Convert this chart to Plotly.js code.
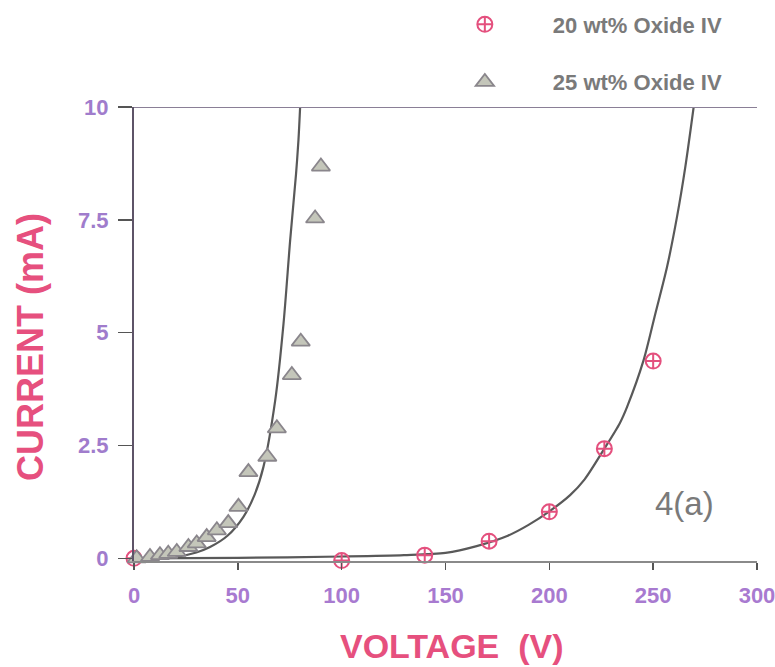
<!DOCTYPE html>
<html>
<head>
<meta charset="utf-8">
<script src="https://cdn.plot.ly/plotly-3.0.1.min.js"></script>
<style>html,body{margin:0;padding:0;background:#fff;}#chart{width:775px;height:667px;}</style>
</head>
<body>
<div id="chart"></div>
<script>
// 20 wt% Oxide IV measured points
const v20 = [0, 100, 140, 171, 200, 226.5, 250];
const i20 = [0, -0.05, 0.07, 0.38, 1.03, 2.43, 4.37];
// 20 wt% fitted curve
const v20Fit = [0, 50, 100, 130, 150, 165, 180, 190, 200, 210, 217, 226.5, 234, 237.4, 245.4, 251.1, 256.7, 261.5, 265.5, 269.5];
const i20Fit = [0, 0.01, 0.04, 0.07, 0.12, 0.27, 0.5, 0.74, 1.04, 1.4, 1.75, 2.43, 3.0, 3.35, 4.39, 5.43, 6.46, 7.57, 8.68, 10];
// 25 wt% Oxide IV measured points
const v25 = [1.3, 7.7, 12.5, 16.5, 20.6, 26.2, 30.2, 35.0, 39.9, 45.4, 50.3, 55.1, 64.2, 68.8, 76, 80.3, 87.2, 90];
const i25 = [0, 0.03, 0.07, 0.10, 0.14, 0.25, 0.33, 0.47, 0.62, 0.78, 1.14, 1.91, 2.25, 2.88, 4.06, 4.8, 7.53, 8.68];
// 25 wt% fitted curve
const v25Fit = [0, 10, 20, 30, 36.6, 45, 52.7, 58, 62.3, 68, 72, 75.2, 78, 79.2, 80];
const i25Fit = [0, 0.01, 0.03, 0.13, 0.25, 0.5, 0.92, 1.4, 2.02, 3.5, 5.2, 7.05, 8.5, 9.27, 10];
// ticks
const xTicks = [0, 50, 100, 150, 200, 250, 300];
const yTicks = [0, 2.5, 5, 7.5, 10];
const yTickText = ["0", "2.5", "5", "7.5", "10"];

const font = "Liberation Sans, Arial, Helvetica, sans-serif";

const traces = [
  {x: v20Fit, y: i20Fit, mode: "lines", line: {color: "#595959", width: 2.2, shape: "spline", smoothing: 0.8}, showlegend: false, hoverinfo: "skip", cliponaxis: true},
  {x: v25Fit, y: i25Fit, mode: "lines", line: {color: "#595959", width: 2.2, shape: "spline", smoothing: 0.8}, showlegend: false, hoverinfo: "skip", cliponaxis: true},
  {x: v20, y: i20, mode: "markers", name: "20 wt% Oxide IV", legendgroup: "a",
   marker: {symbol: "circle-cross-open", size: 15, color: "#e4507e", line: {width: 2, color: "#e4507e"}}, cliponaxis: false},
  {x: v25, y: i25, mode: "markers", name: "25 wt% Oxide IV", legendgroup: "b",
   marker: {symbol: "triangle-up", size: 16, color: "#c4c6ba", line: {width: 1.8, color: "#8a868c"}}, cliponaxis: false}
];

const layout = {
  width: 775, height: 667,
  margin: {l: 134, r: 18, t: 107, b: 106, autoexpand: false},
  paper_bgcolor: "#ffffff", plot_bgcolor: "#ffffff",
  font: {family: font},
  showlegend: true,
  legend: {x: 0.454, y: 1.228, xanchor: "left", yanchor: "top", itemwidth: 126,
    traceorder: "grouped", tracegroupgap: 26, bgcolor: "rgba(0,0,0,0)",
    font: {family: font, size: 22, color: "#7a7a7a", weight: "bold"}},
  xaxis: {range: [0, 300], tickvals: xTicks, ticks: "outside", ticklen: 7, tickwidth: 1.5, tickcolor: "#555",
    showline: true, linecolor: "#8a8a8a", linewidth: 2, showgrid: false, zeroline: false,
    ticklabelstandoff: 7, ticklabeloverflow: "allow",
    tickfont: {family: font, size: 22, color: "#a87ad0", weight: "bold"}},
  yaxis: {range: [-0.06, 10], tickvals: yTicks, ticktext: yTickText, ticks: "outside", ticklen: 14, tickwidth: 1.5, tickcolor: "#555",
    showline: true, linecolor: "#5e5468", linewidth: 2, showgrid: false, zeroline: false,
    ticklabelstandoff: 5, ticklabeloverflow: "allow",
    tickfont: {family: font, size: 22, color: "#a07ccc", weight: "bold"}},
  shapes: [
    {type: "line", xref: "paper", yref: "y", x0: 0, x1: 1, y0: 10, y1: 10,
     line: {color: "#8a7f96", width: 2}}
  ],
  annotations: [
    {text: "CURRENT (mA)", xref: "paper", yref: "paper", x: -0.165, y: 0.472, textangle: -90,
     showarrow: false, xanchor: "center", yanchor: "middle",
     font: {family: font, size: 36, color: "#e6507e", weight: "bold"}},
    {text: "VOLTAGE  (V)", xref: "paper", yref: "paper", x: 0.51, y: -0.188,
     showarrow: false, xanchor: "center", yanchor: "middle",
     font: {family: font, size: 34, color: "#e6507e", weight: "bold"}},
    {text: "4(a)", xref: "paper", yref: "paper", x: 0.883, y: 0.126,
     showarrow: false, xanchor: "center", yanchor: "middle",
     font: {family: font, size: 33, color: "#7a7a7a"}}
  ]
};

Plotly.newPlot("chart", traces, layout, {displayModeBar: false, staticPlot: true});
</script>
</body>
</html>
